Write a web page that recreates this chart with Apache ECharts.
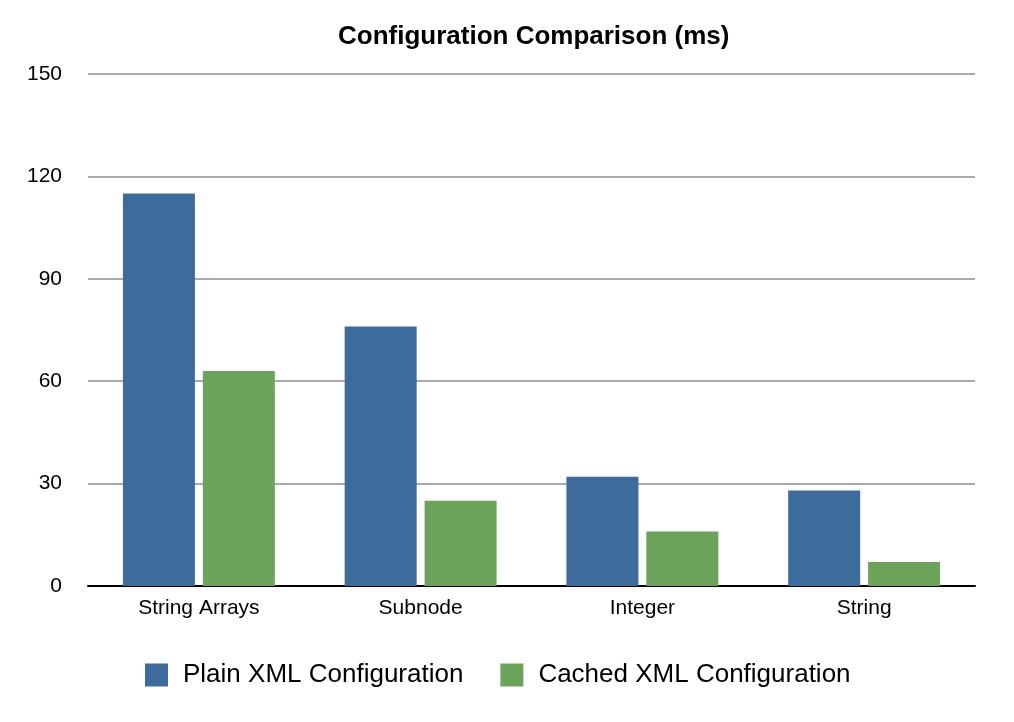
<!DOCTYPE html>
<html><head><meta charset="utf-8">
<script src="https://cdn.jsdelivr.net/npm/echarts@6/dist/echarts.min.js"></script>
<style>html,body{margin:0;padding:0;background:#fff}#c{width:1014px;height:722px}</style>
</head><body><div id="c"></div>
<script>
var categories = ['String Arrays', 'Subnode', 'Integer', 'String'];
var plainXml = [115, 76, 32, 28];
var cachedXml = [63, 25, 16, 7];
var yTicks = [0, 30, 60, 90, 120, 150];
var seriesNames = ['Plain XML Configuration', 'Cached XML Configuration'];

var chart = echarts.init(document.getElementById('c'), null, {renderer: 'canvas'});
var font = 'Helvetica, "Liberation Sans", Arial, sans-serif';
chart.setOption({
  animation: false,
  backgroundColor: '#fff',
  title: {
    text: 'Configuration Comparison (ms)', left: 333, top: 19,
    textStyle: {fontFamily: font, fontSize: 26, fontWeight: 'bold', color: '#000'}
  },
  legend: {
    top: 657, left: 140, itemWidth: 23, itemHeight: 23, itemGap: 37, icon: 'rect',
    textStyle: {fontFamily: font, fontSize: 26, color: '#000', padding: [0, 0, 0, 10]},
    data: seriesNames
  },
  grid: {left: 88, right: 39, top: 74, bottom: 136, containLabel: false},
  xAxis: {
    type: 'category', data: categories,
    axisLine: {lineStyle: {color: '#000', width: 2}},
    axisTick: {show: false},
    axisLabel: {fontFamily: font, fontSize: 21, color: '#000', margin: 12}
  },
  yAxis: {
    type: 'value', min: yTicks[0], max: yTicks[yTicks.length - 1], interval: 30,
    axisLine: {show: false}, axisTick: {show: false},
    splitLine: {lineStyle: {color: '#aaaaaa', width: 2}},
    axisLabel: {fontFamily: font, fontSize: 21, color: '#000', margin: 26}
  },
  series: [
    {name: seriesNames[0], type: 'bar', data: plainXml, barWidth: 72, barGap: '11%',
     itemStyle: {color: '#3d6b9b'}},
    {name: seriesNames[1], type: 'bar', data: cachedXml, barWidth: 72,
     itemStyle: {color: '#6ca35a'}}
  ]
});
</script></body></html>
